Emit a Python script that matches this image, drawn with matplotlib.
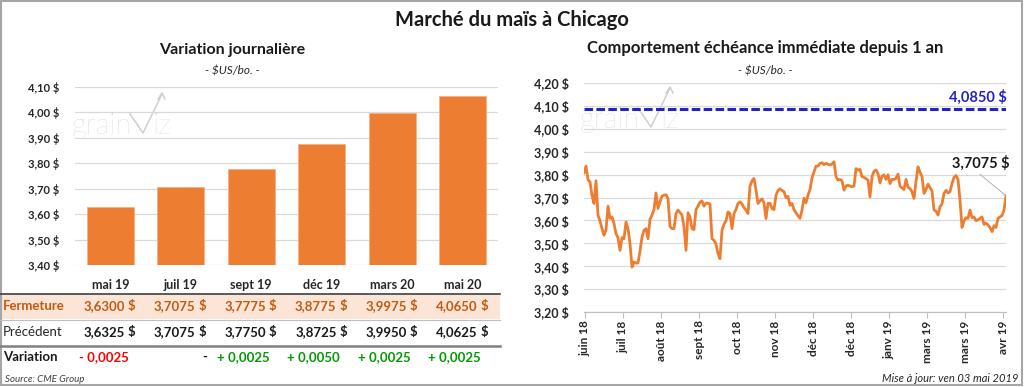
import matplotlib.pyplot as plt
import matplotlib.transforms as mtransforms
from matplotlib.ticker import FuncFormatter, MultipleLocator
from matplotlib.patches import Rectangle
import pandas as pd
import numpy as np

plt.rcParams['font.family'] = ['Lato', 'DejaVu Sans']

# --- données : variation journalière ---
contrats = ['mai 19', 'juil 19', 'sept 19', 'déc 19', 'mars 20', 'mai 20']
fermeture = [3.6300, 3.7075, 3.7775, 3.8775, 3.9975, 4.0650]
precedent = [3.6325, 3.7075, 3.7750, 3.8725, 3.9950, 4.0625]

# --- données : échéance immédiate depuis 1 an ---
prix = [
    3.808, 3.837, 3.777, 3.769, 3.709, 3.674, 3.773, 3.623, 3.598, 3.564,
    3.535, 3.557, 3.662, 3.609, 3.615, 3.586, 3.542, 3.525, 3.469, 3.525,
    3.520, 3.593, 3.564, 3.499, 3.396, 3.418, 3.414, 3.414, 3.466, 3.528,
    3.557, 3.564, 3.520, 3.605, 3.623, 3.647, 3.720, 3.652, 3.681, 3.706,
    3.710, 3.712, 3.696, 3.574, 3.564, 3.564, 3.630, 3.645, 3.634, 3.623,
    3.572, 3.469, 3.633,
    3.615, 3.564, 3.560, 3.647, 3.662, 3.680, 3.685, 3.662, 3.675, 3.675,
    3.671, 3.520, 3.513, 3.496, 3.455, 3.433, 3.557, 3.583, 3.598, 3.637,
    3.630, 3.564, 3.630, 3.648, 3.674, 3.681, 3.671, 3.656, 3.645, 3.630,
    3.750, 3.773, 3.783, 3.732, 3.674, 3.685, 3.694, 3.677, 3.608, 3.674,
    3.675, 3.652, 3.647, 3.710, 3.731, 3.738, 3.731, 3.725, 3.699, 3.705,
    3.666, 3.674,
    3.647, 3.633, 3.620, 3.609, 3.645, 3.697, 3.677, 3.710, 3.735, 3.785,
    3.812, 3.837, 3.837, 3.849, 3.852, 3.843, 3.849, 3.845, 3.842, 3.846,
    3.856, 3.791, 3.776, 3.779, 3.773, 3.732, 3.750, 3.754, 3.750, 3.747,
    3.750, 3.826, 3.820, 3.823, 3.791, 3.788, 3.782, 3.776, 3.703, 3.791,
    3.815, 3.820, 3.805, 3.764, 3.793, 3.799, 3.779, 3.799, 3.761, 3.779,
    3.779, 3.783, 3.802,
    3.750, 3.742, 3.735, 3.779, 3.745, 3.739, 3.725, 3.696, 3.769, 3.834,
    3.811, 3.791, 3.718, 3.735, 3.758, 3.744, 3.728, 3.645, 3.640, 3.623,
    3.659, 3.672, 3.718, 3.731, 3.720, 3.725, 3.761, 3.788, 3.796, 3.779,
    3.688, 3.569, 3.598, 3.612, 3.609, 3.645, 3.612, 3.615, 3.599, 3.602,
    3.609, 3.615, 3.583, 3.588, 3.580, 3.569, 3.551, 3.577, 3.569, 3.609,
    3.615, 3.621, 3.645, 3.7075,
]
debut, fin = '2018-06-03', '2019-05-02'
sommet_1an = 4.0850
dates_ticks = pd.date_range('2018-06-04', periods=12, freq='30D')
etiquettes_ticks = ['juin 18', 'juil 18', 'août 18', 'sept 18', 'oct 18', 'nov 18',
                    'déc 18', 'déc 18', 'janv 19', 'mars 19', 'mars 19', 'avr 19']

ORANGE = '#ED7D31'
BRUN = '#C55A11'
BLEU = '#2222C8'
VERT = '#009A00'
ROUGE = '#FF0000'
GRILLE = '#D9D9D9'
W, H = 1024, 387


def fr(v, d=4):
    return f"{v:.{d}f}".replace('.', ',')


def dollars(v, pos=None):
    return fr(v, 2) + ' $'


fig = plt.figure(figsize=(W / 100, H / 100), dpi=100)

# calque en pixels pour les textes, le tableau et le cadre
ov = fig.add_axes([0, 0, 1, 1])
ov.set_xlim(0, W)
ov.set_ylim(H, 0)
ov.axis('off')
ov.add_patch(Rectangle((1, 1), W - 3, H - 3, fill=False, ec='#A6A6A6', lw=1.5))


def logo(x0, base):
    # filigrane "grainviz"
    ov.text(x0, base, 'grain', fontsize=21, color='#CFCFCF', fontweight='light',
            va='baseline', ha='left')
    ov.plot([x0 + 58, x0 + 71, x0 + 90], [base - 20, base - 1, base - 40],
            color='#CFCFCF', lw=1.1)
    ov.plot([x0 + 86, x0 + 90, x0 + 93], [base - 35, base - 41, base - 35],
            color='#CFCFCF', lw=1.1)
    ov.text(x0 + 81, base, 'iz', fontsize=21, color='#CFCFCF', fontweight='light',
            va='baseline', ha='left')


ov.text(512, 20, 'Marché du maïs à Chicago', ha='center', va='center',
        fontsize=14.5, fontweight='bold', color='#1a1a1a')
ov.text(232, 50, 'Variation journalière', ha='center', va='center',
        fontsize=11.5, fontweight='bold', color='#1a1a1a')
ov.text(232, 71, '- $US/bo. -', ha='center', va='center',
        fontsize=8.5, style='italic', color='#262626')
ov.text(765, 48, 'Comportement échéance immédiate depuis 1 an', ha='center',
        va='center', fontsize=12, fontweight='bold', color='#1a1a1a')
ov.text(765, 71, '- $US/bo. -', ha='center', va='center',
        fontsize=8.5, style='italic', color='#262626')
ov.text(5, 379, 'Source: CME Group', ha='left', va='center', fontsize=7,
        style='italic', color='#404040')
ov.text(1018, 378, 'Mise à jour: ven 03 mai 2019', ha='right', va='center',
        fontsize=8, style='italic', color='#262626')

# --- graphique à barres ---
ax1 = fig.add_axes([75 / W, (H - 265) / H, 423 / W, 178 / H])
x = np.arange(len(contrats))
ax1.bar(x, fermeture, width=0.66, color=ORANGE, edgecolor='#F4B183', lw=0.6,
        zorder=2)
ax1.set_xlim(-0.5, len(contrats) - 0.5)
ax1.set_ylim(3.40, 4.10)
ax1.yaxis.set_major_locator(MultipleLocator(0.1))
ax1.yaxis.set_major_formatter(FuncFormatter(dollars))
ax1.grid(axis='y', color=GRILLE, lw=0.9, zorder=0)
ax1.set_axisbelow(True)
for s in ax1.spines.values():
    s.set_visible(False)
ax1.tick_params(axis='y', length=0, pad=11, labelsize=8, labelcolor='#262626')
ax1.tick_params(axis='x', length=0, labelbottom=False)
for t in ax1.get_yticklabels():
    t.set_fontweight('bold')
ax1.patch.set_visible(False)

# --- tableau sous les barres ---
tr = mtransforms.blended_transform_factory(ax1.transData, ov.transData)
ov.add_patch(Rectangle((0, 294), 500, 25, color='#FCE4D6', lw=0, zorder=0))
ov.plot([0, 500], [293.5, 293.5], color='#404040', lw=1.2)
ov.plot([0, 500], [319.5, 319.5], color='#BFBFBF', lw=0.8)
ov.plot([0, 500], [345.5, 345.5], color='#808080', lw=1.8)
ov.text(3, 306, 'Fermeture', ha='left', va='center', fontsize=9.5,
        fontweight='bold', color=BRUN)
ov.text(3, 332, 'Précédent', ha='left', va='center', fontsize=9.5, color='#262626')
ov.text(3, 357, 'Variation', ha='left', va='center', fontsize=9.5,
        fontweight='bold', color='#1a1a1a')
for i, c in enumerate(contrats):
    ov.text(i, 285, c, transform=tr, ha='center', va='center', fontsize=9,
            fontweight='bold', color='#262626')
    ov.text(i + 0.21, 306, fr(fermeture[i]), transform=tr, ha='right',
            va='center', fontsize=9.5, fontweight='bold', color=BRUN)
    ov.text(i + 0.36, 306, '$', transform=tr, ha='right', va='center',
            fontsize=9.5, fontweight='bold', color=BRUN)
    ov.text(i + 0.21, 332, fr(precedent[i]), transform=tr, ha='right',
            va='center', fontsize=9.5, fontweight='bold', color='#1a1a1a')
    ov.text(i + 0.36, 332, '$', transform=tr, ha='right', va='center',
            fontsize=9.5, fontweight='bold', color='#1a1a1a')
    var = round(fermeture[i] - precedent[i], 4)
    if var > 0:
        txt, col, xr = '+ ' + fr(var), VERT, i + 0.26
    elif var < 0:
        txt, col, xr = '- ' + fr(-var), ROUGE, i + 0.26
    else:
        txt, col, xr = '-', '#1a1a1a', i + 0.37
    ov.text(xr, 357, txt, transform=tr, ha='right', va='center', fontsize=9.5,
            fontweight='bold', color=col)

logo(72, 134)

# --- graphique linéaire ---
ax2 = fig.add_axes([584 / W, (H - 312) / H, 422 / W, 229 / H])
dates = pd.date_range(debut, fin, periods=len(prix))
ax2.plot(dates, prix, color=ORANGE, lw=2.0, zorder=3, solid_joinstyle='round')
ax2.axhline(sommet_1an, color=BLEU, lw=2.2, ls=(0, (2.8, 1.1)), zorder=2)
ax2.set_xlim(dates[0], dates[-1])
ax2.set_ylim(3.20, 4.20)
ax2.yaxis.set_major_locator(MultipleLocator(0.1))
ax2.yaxis.set_major_formatter(FuncFormatter(dollars))
ax2.set_xticks(dates_ticks)
ax2.set_xticklabels(etiquettes_ticks, rotation=90)
ax2.grid(axis='y', color=GRILLE, lw=0.9, zorder=0)
ax2.set_axisbelow(True)
for k in ['top', 'right', 'left']:
    ax2.spines[k].set_visible(False)
ax2.spines['bottom'].set_color('#BFBFBF')
ax2.tick_params(axis='y', length=0, pad=11, labelsize=9, labelcolor='#262626')
ax2.tick_params(axis='x', length=4, color='#BFBFBF', pad=2, labelsize=8.5,
                labelcolor='#262626')
for t in ax2.get_yticklabels() + ax2.get_xticklabels():
    t.set_fontweight('bold')
ax2.patch.set_visible(False)

ov.text(1007, 97, fr(sommet_1an) + ' $', ha='right', va='center', fontsize=10.5,
        fontweight='bold', color=BLEU)
ax2.annotate(fr(prix[-1]) + ' $', xy=(dates[-1], prix[-1]), xytext=(1010, 163),
             textcoords=ov.transData, ha='right', va='center', fontsize=10.5,
             fontweight='bold', color='#1a1a1a',
             arrowprops=dict(arrowstyle='-', color='#A6A6A6', lw=0.6,
                             shrinkA=1, shrinkB=0, relpos=(0.4, 0)))

logo(580, 128)

fig.savefig('out.png', dpi=100)
